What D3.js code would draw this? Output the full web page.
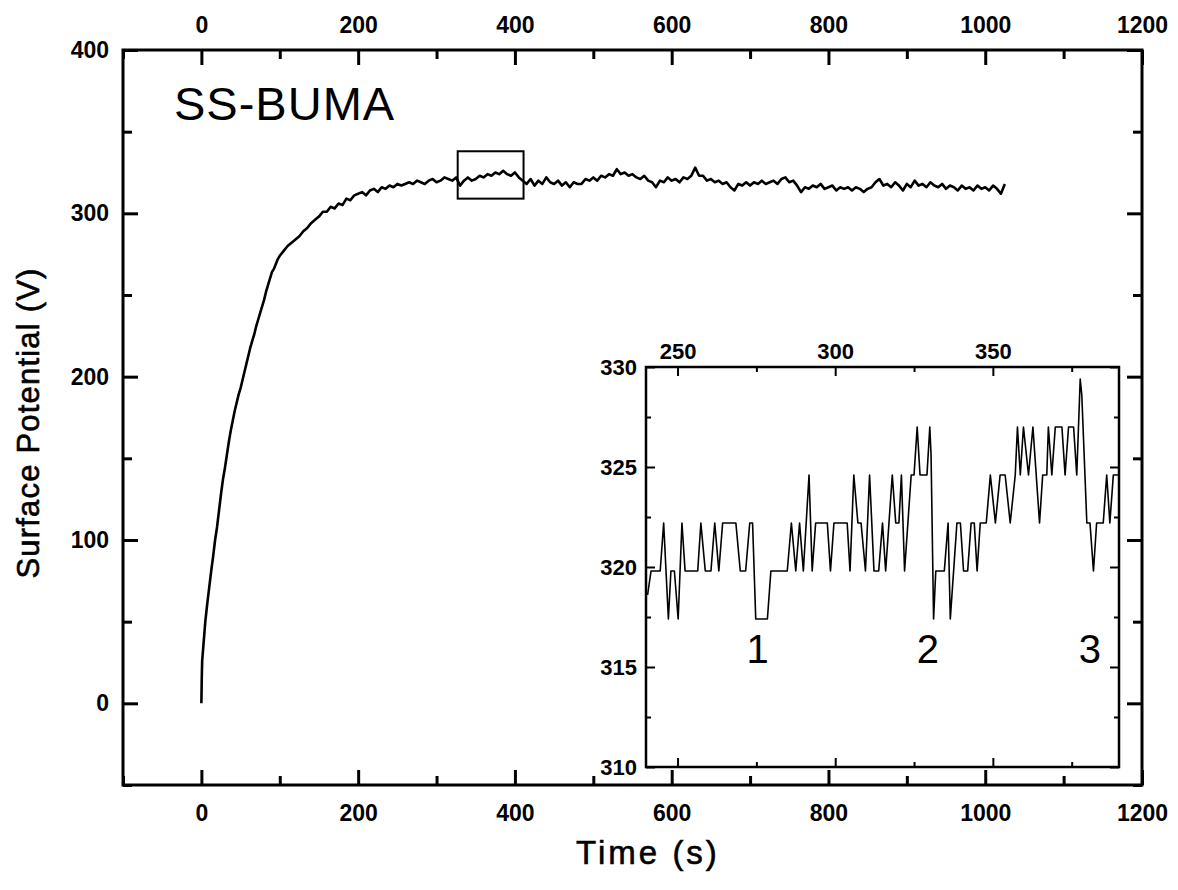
<!DOCTYPE html>
<html lang="en">
<head>
<meta charset="UTF-8">
<title>SS-BUMA surface potential</title>
<script src="https://cdnjs.cloudflare.com/ajax/libs/d3/7.8.5/d3.min.js"></script>
<style>
    body { margin: 0; background: #fff; }
    svg { display: block; background: #fff; }
</style>
</head>
<body>
<svg id="chart" width="1178" height="890"></svg>
<script>
// charging curve, time (s) vs surface potential (V)
const riseData = [
    [0, 0], [0.5, 16], [1, 26], [2.5, 35], [5, 50], [7.5, 61], [10, 71], [12.5, 81], [15, 90],
    [17.5, 100], [20, 108], [22.5, 118], [25, 128], [27.5, 137], [30, 144], [32.5, 152], [35, 160],
    [37.5, 167], [40, 173], [42.5, 179], [45, 184], [47.5, 189], [50, 193], [52.5, 198], [55, 203],
    [57.5, 208], [60, 213], [62.5, 218], [65, 222], [67.5, 226], [70, 231], [72.5, 235], [75, 239],
    [77.5, 243], [80, 247], [82.5, 252], [85, 256], [87.5, 260], [90, 264], [92.5, 266], [95, 269],
    [97.5, 272], [100, 274], [105, 277], [110, 280], [115, 282], [120, 284], [125, 286], [130, 289],
    [135, 291], [140, 294], [145, 296], [150, 298], [155, 301], [160, 301], [165, 304], [170, 303],
    [175, 306], [180, 305], [185, 309], [190, 308], [195, 311]
];
const plateauData = [
    [200, 312], [205, 313], [210, 311], [215, 314], [220, 315], [225, 313], [230, 316], [235, 315],
    [240, 317], [245, 316], [250, 318], [255, 317], [260, 318], [265, 319], [270, 318], [275, 320],
    [280, 319], [285, 318], [290, 320], [295, 321], [300, 319], [305, 320], [310, 322], [315, 321],
    [320, 320], [325, 322], [330, 317], [335, 320], [340, 322], [345, 320], [350, 321], [355, 323],
    [360, 322], [365, 324], [370, 323], [375, 325], [380, 324], [385, 326], [390, 324], [395, 323],
    [400, 325], [405, 322], [410, 320], [415, 318], [420, 321], [425, 317], [430, 320], [435, 318],
    [440, 322], [445, 319], [450, 318], [455, 320], [460, 317], [465, 319], [470, 316], [475, 319],
    [480, 318], [485, 318], [490, 321], [495, 320], [500, 322], [505, 320], [510, 323], [515, 322],
    [520, 324], [525, 323], [530, 327], [535, 324], [540, 325], [545, 323], [550, 324], [555, 322],
    [560, 321], [565, 323], [570, 320], [575, 319], [580, 316], [585, 320], [590, 319], [595, 322],
    [600, 320], [605, 321], [610, 319], [615, 322], [620, 321], [625, 323], [630, 328], [635, 323],
    [640, 323], [645, 320], [650, 321], [655, 319], [660, 320], [665, 318], [670, 319], [675, 316],
    [680, 314], [685, 318], [690, 317], [695, 319], [700, 317], [705, 319], [710, 318], [715, 320],
    [720, 318], [725, 319], [730, 320], [735, 318], [740, 321], [745, 322], [750, 319], [755, 320],
    [760, 317], [765, 313], [770, 316], [775, 315], [780, 317], [785, 316], [790, 318], [795, 315],
    [800, 316], [805, 317], [810, 314], [815, 316], [820, 315], [825, 316], [830, 314], [835, 316],
    [840, 315], [845, 313], [850, 315], [855, 316], [860, 319], [865, 321], [870, 317], [875, 318],
    [880, 316], [885, 319], [890, 317], [895, 314], [900, 318], [905, 316], [910, 320], [915, 317],
    [920, 318], [925, 316], [930, 319], [935, 317], [940, 316], [945, 318], [950, 315], [955, 317],
    [960, 316], [965, 314], [970, 317], [975, 315], [980, 316], [985, 314], [990, 317], [995, 315],
    [1000, 316], [1005, 314], [1010, 317], [1015, 315], [1020, 312], [1025, 318]
];

// zoomed detail shown in the inset
const insetData = [
    [240.5, 318.6], [241.6, 319.8], [244.5, 319.8], [245.6, 322.2], [247.1, 317.4], [247.9, 319.8],
    [249.0, 319.8], [250.2, 317.4], [251.4, 322.2], [252.4, 319.8], [256.4, 319.8], [257.4, 322.2],
    [258.8, 319.8], [260.6, 319.8], [261.8, 322.2], [263.1, 319.8], [264.3, 322.2], [268.5, 322.2],
    [269.9, 319.8], [271.6, 319.8], [272.9, 322.2], [273.8, 322.2], [274.8, 317.4], [278.5, 317.4],
    [279.6, 319.8], [284.8, 319.8], [286.1, 322.2], [287.5, 319.8], [288.7, 322.2], [289.9, 319.8],
    [291.7, 324.6], [292.7, 319.8], [293.8, 322.2], [297.5, 322.2], [298.5, 319.8], [299.6, 322.2],
    [303.8, 322.2], [304.7, 319.8], [305.9, 324.6], [307.2, 322.2], [308.2, 322.2], [309.6, 319.8],
    [310.9, 324.6], [312.3, 319.8], [313.8, 319.8], [315.0, 322.2], [316.0, 319.8], [318.1, 324.6],
    [319.2, 322.2], [320.2, 322.2], [321.0, 324.6], [322.0, 319.8], [324.1, 324.6], [325.0, 324.6],
    [326.0, 327.0], [326.9, 324.6], [329.1, 324.6], [330.0, 327.0], [330.4, 325.6], [331.2, 317.4],
    [331.9, 319.8], [334.6, 319.8], [335.8, 322.2], [336.5, 317.4], [338.6, 322.2], [339.7, 322.2],
    [340.7, 319.8], [342.0, 319.8], [343.1, 322.2], [344.1, 322.2], [345.0, 319.8], [346.0, 322.2],
    [347.9, 322.2], [349.2, 324.6], [350.8, 322.2], [352.3, 324.6], [353.9, 324.6], [355.5, 322.2],
    [357.1, 324.6], [357.8, 327.0], [358.7, 324.6], [359.7, 327.0], [361.3, 324.6], [362.7, 327.0],
    [364.8, 322.2], [365.8, 324.6], [367.1, 324.6], [367.6, 327.0], [368.7, 324.6], [369.8, 327.0],
    [371.9, 327.0], [372.9, 324.6], [374.0, 327.0], [375.6, 327.0], [376.6, 324.6], [377.7, 329.4],
    [378.2, 328.6], [379.8, 322.2], [380.8, 322.2], [381.9, 319.8], [382.9, 322.2], [385.0, 322.2],
    [386.1, 324.6], [387.1, 322.2], [388.2, 324.6], [389.8, 324.6]
];
const insetMarks = [["1", 275.4, 315.2], ["2", 329.4, 315.2], ["3", 380.8, 315.2]];

// rectangle on the main curve marking the zoomed part
const zoomBoxT = [327, 411];
const zoomBoxV = [309, 338];

const mainXMajor = [0, 200, 400, 600, 800, 1000, 1200];
const mainXMinor = [-100, 100, 300, 500, 700, 900, 1100];
const mainYMajor = [0, 100, 200, 300, 400];
const mainYMinor = [-50, 50, 150, 250, 350];
const insetXMajor = [250, 300, 350];
const insetXMinor = [275, 325, 375];
const insetYMajor = [310, 315, 320, 325, 330];
const insetYMinor = [312.5, 317.5, 322.5, 327.5];

const FONT = "Arial, 'Liberation Sans', sans-serif";
const svg = d3.select("#chart");

const x = d3.scaleLinear().domain([-100, 1200]).range([123, 1142]);
const y = d3.scaleLinear().domain([-50, 400]).range([785, 50]);
const xi = d3.scaleLinear().domain([240, 390]).range([646, 1119]);
const yi = d3.scaleLinear().domain([310, 330]).range([767, 367]);

function frame(xs, ys, sw) {
    svg.append("rect")
        .attr("x", xs.range()[0]).attr("y", ys.range()[1])
        .attr("width", xs.range()[1] - xs.range()[0])
        .attr("height", ys.range()[0] - ys.range()[1])
        .attr("fill", "#fff").attr("stroke", "#000").attr("stroke-width", sw);
}

// ticks pointing inwards, labels optional
function axis(gen, pos, scale, major, minor, majLen, minLen, sw, labels, fs, pad) {
    const make = (vals, len, fmt) => {
        const g = svg.append("g")
            .attr("transform", pos)
            .call(gen(scale).tickValues(vals).tickSize(-len).tickPadding(pad).tickFormat(fmt));
        g.select(".domain").remove();
        g.attr("font-family", FONT).attr("font-size", fs).attr("font-weight", "bold");
        g.selectAll("line").attr("stroke", "#000").attr("stroke-width", sw);
        g.selectAll("text").attr("fill", "#000");
        return g;
    };
    make(minor, minLen, () => "");
    make(major, majLen, labels ? d3.format("d") : () => "");
}

// main plot
frame(x, y, 3);
axis(d3.axisBottom, `translate(0,${y.range()[0]})`, x, mainXMajor, mainXMinor, 15, 9, 3, true, 23, 20);
axis(d3.axisTop, `translate(0,${y.range()[1]})`, x, mainXMajor, mainXMinor, 15, 9, 3, true, 23, 17);
axis(d3.axisLeft, `translate(${x.range()[0]},0)`, y, mainYMajor, mainYMinor, 15, 9, 3, true, 23, 14);
axis(d3.axisRight, `translate(${x.range()[1]},0)`, y, mainYMajor, mainYMinor, 15, 9, 3, false, 23, 14);

const mainLine = d3.line().x(d => x(d[0])).y(d => y(d[1]));
svg.append("path")
    .datum(riseData.concat(plateauData))
    .attr("d", mainLine)
    .attr("fill", "none").attr("stroke", "#000")
    .attr("stroke-width", 2.6).attr("stroke-linejoin", "round");

svg.append("rect")
    .attr("x", x(zoomBoxT[0])).attr("y", y(zoomBoxV[1]))
    .attr("width", x(zoomBoxT[1]) - x(zoomBoxT[0]))
    .attr("height", y(zoomBoxV[0]) - y(zoomBoxV[1]))
    .attr("fill", "none").attr("stroke", "#000").attr("stroke-width", 2);

svg.append("text")
    .attr("x", 174).attr("y", 120)
    .attr("font-family", FONT).attr("font-size", 47).attr("letter-spacing", 1)
    .text("SS-BUMA");

svg.append("text")
    .attr("x", 648).attr("y", 864)
    .attr("text-anchor", "middle")
    .attr("font-family", FONT).attr("font-size", 33).attr("letter-spacing", 3)
    .attr("stroke", "#000").attr("stroke-width", 0.6)
    .text("Time (s)");

svg.append("text")
    .attr("transform", "translate(39,423) rotate(-90)")
    .attr("text-anchor", "middle")
    .attr("font-family", FONT).attr("font-size", 31).attr("letter-spacing", 1.2)
    .attr("stroke", "#000").attr("stroke-width", 0.6)
    .text("Surface Potential (V)");

// inset
frame(xi, yi, 2.5);
axis(d3.axisBottom, `translate(0,${yi.range()[0]})`, xi, insetXMajor, insetXMinor, 9, 5, 2, false, 22, 8);
axis(d3.axisTop, `translate(0,${yi.range()[1]})`, xi, insetXMajor, insetXMinor, 9, 5, 2, true, 22, 8);
axis(d3.axisLeft, `translate(${xi.range()[0]},0)`, yi, insetYMajor, insetYMinor, 9, 5, 2, true, 22, 9);
axis(d3.axisRight, `translate(${xi.range()[1]},0)`, yi, insetYMajor, insetYMinor, 9, 5, 2, false, 22, 9);

const insetLine = d3.line().x(d => xi(d[0])).y(d => yi(d[1]));
svg.append("path")
    .datum(insetData)
    .attr("d", insetLine)
    .attr("fill", "none").attr("stroke", "#000")
    .attr("stroke-width", 1.6).attr("stroke-linejoin", "round");

svg.selectAll(".mark")
    .data(insetMarks)
    .enter().append("text")
    .attr("x", d => xi(d[1])).attr("y", d => yi(d[2]))
    .attr("text-anchor", "middle")
    .attr("font-family", FONT).attr("font-size", 40)
    .text(d => d[0]);
</script>
</body>
</html>
